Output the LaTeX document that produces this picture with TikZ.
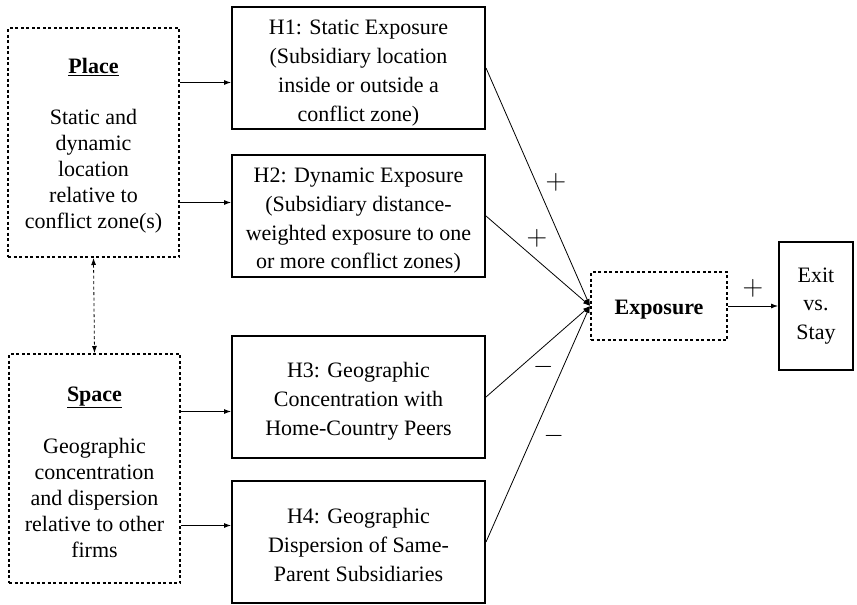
\documentclass[tikz,border=0pt]{standalone}
\usepackage{fontspec}
\setmainfont{Liberation Serif}
\usepackage{graphicx}
\usetikzlibrary{arrows.meta}
\newcommand{\topstrut}[1]{\rule{0pt}{#1}}

\begin{document}
\begin{tikzpicture}[x=1pt,y=-1pt,
		hyp/.style={draw,line width=2pt,minimum width=253pt,minimum height=122pt,inner sep=0pt,align=center,font=\fontsize{22}{29}\selectfont},
		grp/.style={draw,line width=2pt,dash pattern=on 3pt off 2.5pt,minimum width=171pt,minimum height=229pt,inner sep=0pt,align=center,font=\fontsize{22}{26}\selectfont},
		outc/.style={draw,line width=2pt,minimum width=74pt,minimum height=128pt,inner sep=0pt,align=center,font=\fontsize{22}{28.5}\selectfont},
		conn/.style={-{Latex[length=7pt,width=5pt]},line width=0.8pt},
		sgn/.style={font=\fontsize{24}{24}\selectfont}]
			\useasboundingbox (0,0) rectangle (857,605);
			\node[grp] (place) at (93.5,142.5) {\topstrut{22pt}\underline{\textbf{Place}}\\[25pt]Static and\\dynamic\\location\\relative to\\conflict zone(s)};
			\node[grp] (space) at (94.5,468.5) {\topstrut{22pt}\underline{\textbf{Space}}\\[26pt]Geographic\\concentration\\and dispersion\\relative to other\\firms};
			\node[hyp] (h1) at (358.5,68) {\topstrut{24pt}H1: Static Exposure\\(Subsidiary location\\inside or outside a\\conflict zone)};
			\node[hyp,font=\fontsize{22}{28.7}\selectfont] (h2) at (358.5,216) {\topstrut{24pt}H2: Dynamic Exposure\\(Subsidiary distance-\\weighted exposure to one\\or more conflict zones)};
			\node[hyp] (h3) at (358.5,397) {\topstrut{24pt}H3: Geographic\\Concentration with\\Home-Country Peers};
			\node[hyp] (h4) at (358.5,542) {\topstrut{22pt}H4: Geographic\\Dispersion of Same-\\Parent Subsidiaries};
			\node[grp,minimum width=136pt,minimum height=68pt] (expo) at (659,306) {\topstrut{22pt}\textbf{Exposure}};
			\node[outc] (exit) at (816,306) {Exit\\vs.\\Stay};
			\draw[conn] ([yshift=60pt]place.east) -- ([yshift=60pt]place.east -| h1.west);
			\draw[conn] ([yshift=-60pt]place.east) -- ([yshift=-60pt]place.east -| h2.west);
			\draw[conn] ([yshift=57pt]space.east) -- ([yshift=57pt]space.east -| h3.west);
			\draw[conn] ([yshift=-57pt]space.east) -- ([yshift=-57pt]space.east -| h4.west);
			\draw[{Latex[length=7pt,width=5pt]}-{Latex[length=7pt,width=5pt]},line width=0.8pt,dash pattern=on 3pt off 2.5pt] (place.south) -- (space.north);
			\draw[conn] (h1.east) -- (expo.west) node[sgn,pos=0.48,xshift=20pt] {\scalebox{1.15}{$+$}};
			\draw[conn] (h2.east) -- (expo.west) node[sgn,pos=0.49,yshift=22pt] {\scalebox{1.15}{$+$}};
			\draw[conn] (h3.east) -- (expo.west) node[sgn,pos=0.55,yshift=-20pt] {\scalebox{1.05}{$-$}};
			\draw[conn] (h4.east) -- (expo.west) node[sgn,pos=0.45,xshift=21pt] {\scalebox{1.05}{$-$}};
			\draw[conn] (expo.east) -- (exit.west) node[sgn,midway,yshift=18pt] {\scalebox{1.15}{$+$}};
		\end{tikzpicture}
\end{document}
